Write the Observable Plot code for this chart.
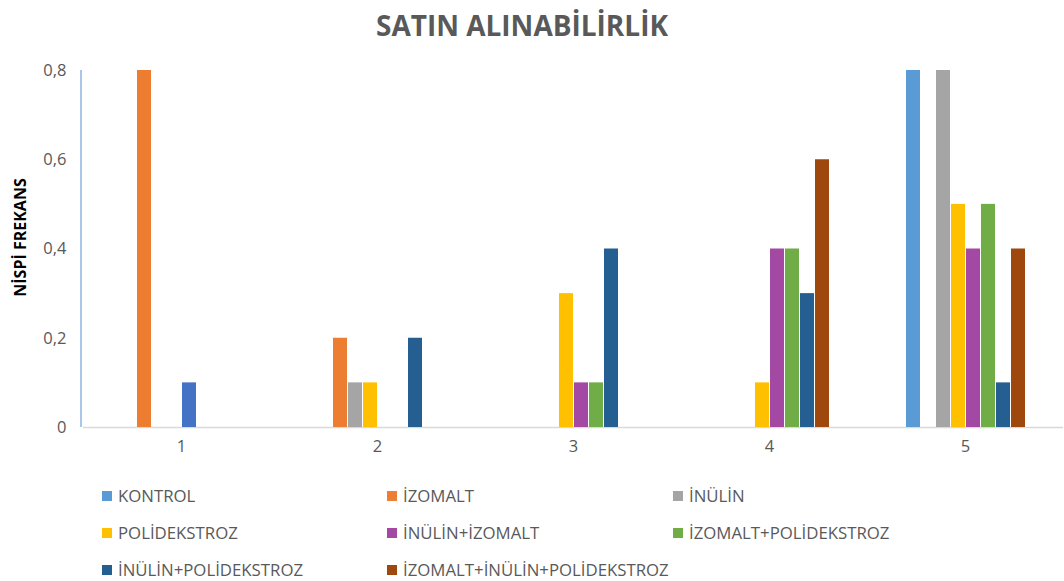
<!DOCTYPE html>
<html><head><meta charset="utf-8">
<script src="https://cdn.jsdelivr.net/npm/d3@7"></script>
<script src="https://cdn.jsdelivr.net/npm/@observablehq/plot@0.6"></script>
<style>
body{margin:0;background:#fff;font-family:"Open Sans",sans-serif;}
#title{height:55px;line-height:50px;text-align:center;font-weight:bold;font-size:28px;color:#595959;padding-right:20px;box-sizing:border-box;}
#chart svg{display:block;}
#legend{display:grid;grid-template-columns:285px 286px auto;grid-auto-rows:37px;padding-left:102px;padding-top:5px;box-sizing:border-box;}
.item{font-size:16.8px;color:#595959;display:flex;align-items:center;white-space:nowrap;}
.sw{width:10px;height:10px;margin-right:6px;flex:none;}
</style></head><body>
<div id="title"></div>
<div id="chart"></div>
<div id="legend"></div>
<script>
const chartTitle = "SATIN ALINABİLİRLİK";
const yLabel = "NİSPİ FREKANS";
const groups = ["1", "2", "3", "4", "5"];
const seriesNames = ["KONTROL", "İZOMALT", "İNÜLİN", "POLİDEKSTROZ", "İNÜLİN+İZOMALT", "İZOMALT+POLİDEKSTROZ", "İNÜLİN+POLİDEKSTROZ", "İZOMALT+İNÜLİN+POLİDEKSTROZ"];
const seriesColors = ["#5B9BD5", "#ED7D31", "#A5A5A5", "#FFC000", "#A349A4", "#70AD47", "#255E91", "#9E480E"];
// values per group 1..5
const KONTROL = [0, 0, 0, 0, 0.8];
const IZOMALT = [0.8, 0.2, 0, 0, 0];
const INULIN = [0, 0.1, 0, 0, 0.8];
const POLIDEKSTROZ = [0, 0.1, 0.3, 0.1, 0.5];
const INULIN_IZOMALT = [0.1, 0, 0.1, 0.4, 0.4];
const IZOMALT_POLIDEKSTROZ = [0, 0, 0.1, 0.4, 0.5];
const INULIN_POLIDEKSTROZ = [0, 0.2, 0.4, 0.3, 0.1];
const IZOMALT_INULIN_POLIDEKSTROZ = [0, 0, 0, 0.6, 0.4];
const yTicks = [0, 0.2, 0.4, 0.6, 0.8];

const seriesValues = [KONTROL, IZOMALT, INULIN, POLIDEKSTROZ, INULIN_IZOMALT, IZOMALT_POLIDEKSTROZ, INULIN_POLIDEKSTROZ, IZOMALT_INULIN_POLIDEKSTROZ];
const colorOf = new Map(seriesNames.map((s, i) => [s, seriesColors[i]]));

const data = [];
groups.forEach((g, gi) => seriesNames.forEach((s, si) => {
  const v = seriesValues[si][gi];
  if (v > 0) data.push({group: g, series: s, value: v});
}));

document.getElementById("title").textContent = chartTitle;

const W = 1064, H = 417, mL = 81, mR = 0, mT = 15, mB = 45;
const plot = Plot.plot({
  width: W, height: H,
  marginLeft: mL, marginRight: mR, marginTop: mT, marginBottom: mB,
  style: {fontFamily: "Open Sans", fontSize: "16.5px", color: "#595959", background: "white"},
  facet: {data, x: "group"},
  fx: {domain: groups, padding: 0, label: null, tickSize: 0, tickPadding: 13, axis: "bottom"},
  x: {domain: seriesNames, axis: null, paddingInner: 0.1, paddingOuter: 2.2},
  y: {domain: [0, 0.8], ticks: yTicks, tickFormat: d => d === 0 ? "0" : String(d).replace(".", ","), tickSize: 0, tickPadding: 17, label: null},
  marks: [
    Plot.ruleY([0], {stroke: "#d9d9d9", strokeWidth: 1.5}),
    Plot.barY(data, {
      x: "series", y: "value",
      fill: d => (d.group === "1" && d.series === "İNÜLİN+İZOMALT") ? "#4472C4" : colorOf.get(d.series)
    })
  ]
});
document.getElementById("chart").appendChild(plot);

const svg = d3.select(plot);
svg.append("line")
  .attr("x1", mL).attr("x2", mL).attr("y1", mT).attr("y2", H - mB)
  .attr("stroke", "#8DB4E2").attr("stroke-width", 1.5);
svg.append("text")
  .attr("transform", `translate(20,${(mT + H - mB) / 2 - 11}) rotate(-90)`)
  .attr("text-anchor", "middle").attr("dominant-baseline", "central")
  .attr("font-weight", "bold").attr("font-size", 16).attr("fill", "#000")
  .attr("font-family", "Open Sans")
  .text(yLabel);

const legend = d3.select("#legend");
seriesNames.forEach((s, i) => {
  const it = legend.append("div").attr("class", "item");
  it.append("span").attr("class", "sw").style("background", seriesColors[i]);
  it.append("span").text(s);
});
</script>
</body></html>
